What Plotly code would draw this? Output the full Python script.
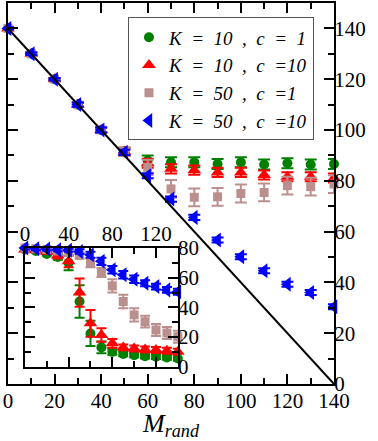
import plotly.graph_objects as go

# Datos: eje principal
m_rand = [0, 10, 20, 30, 40, 50, 60, 70, 80, 90, 100, 110, 120, 130, 140]

main_k10_c1 = [140, 130, 120, 110, 100, 91.5, 88, 87.3, 87.3, 86.6, 87.3, 86.4, 86.9, 86.4, 86.6]
main_k10_c10 = [140, 130, 120, 110, 100, 91.5, 86.9, 84.7, 84.2, 83.3, 83.3, 82.3, 81.6, 81.6, 81.1]
main_k50_c1 = [140, 130, 120, 110, 100, 91.5, 85.3, 76.8, 73.5, 73.7, 75, 75.4, 78.1, 77.7, 78.7]
main_k50_c10 = [140, 130, 120, 110, 100, 91.2, 82, 72.8, 65.6, 56.7, 50.1, 44.6, 39.3, 36, 30.4]

err_main_k10_c1 = [0.5, 0.5, 0.5, 0.8, 1, 1.5, 2, 2, 2, 2, 2, 2, 2, 2, 2]
err_main_k10_c10 = [0.5, 0.5, 0.5, 0.8, 1, 1.5, 1.8, 1.8, 1.8, 1.8, 1.8, 1.8, 1.8, 1.8, 1.8]
err_main_k50_c1 = [0.5, 0.5, 0.5, 0.8, 1, 1.5, 3, 3.5, 3.5, 3.5, 3.5, 3.5, 3.5, 3.5, 3.5]
err_main_k50_c10 = [0.5, 0.5, 0.5, 0.8, 1, 1, 1, 1, 1, 1, 1, 1, 1, 1, 1]

# Recta de referencia M = 140 - M_rand
recta_x = [0, 140]
recta_y = [140, 0]

# Datos: recuadro interior
ins_k10_c1 = [79, 78, 76, 74, 70, 44, 22.5, 13.1, 10.1, 8.6, 7.9, 7.2, 6.8, 6.3, 5.6]
ins_k10_c10 = [79, 78.5, 77.5, 75, 71, 50, 29.3, 21.4, 15.8, 13.1, 12.4, 11.7, 11.3, 10.8, 10.1]
ins_k50_c1 = [80, 79.5, 79, 78, 77, 75, 70, 63.5, 54.5, 44, 35, 30.4, 24.8, 22.8, 20.3]
ins_k50_c10 = [80, 79.5, 79.3, 78.8, 78.4, 77.7, 75.5, 71, 65.3, 62, 59, 56.3, 54, 51.8, 50.5]

err_ins_k10_c1 = [0.5, 1, 1, 2, 5, 11, 8.5, 4, 2, 1.5, 1.5, 1.5, 1.5, 1.5, 1.5]
err_ins_k10_c10 = [0.5, 1, 1, 2, 4, 9.5, 9, 4.5, 3, 2, 2, 2, 2, 2, 2]
err_ins_k50_c1 = [1, 1, 1, 1, 1.5, 2, 3, 3, 4.5, 4.5, 4.5, 4, 4, 4, 4]
err_ins_k50_c10 = [1, 1, 1, 1, 1, 1.5, 2, 2.5, 2.5, 2.5, 2.5, 2, 2, 2, 2]

# espacios anchos (en space) como en la leyenda original
nombres = [
    "K\u2002=\u200210\u2002,\u2002c\u2002=\u20021",
    "K\u2002=\u200210\u2002,\u2002c\u2002=10",
    "K\u2002=\u200250\u2002,\u2002c\u2002=1",
    "K\u2002=\u200250\u2002,\u2002c\u2002=10",
]
colores = ["#008000", "#ff0000", "#bc8f8f", "#0000ff"]
simbolos = ["circle", "triangle-up", "square", "triangle-left"]
tamanos = [10, 12, 9, 13]

series_main = [main_k10_c1, main_k10_c10, main_k50_c1, main_k50_c10]
errores_main = [err_main_k10_c1, err_main_k10_c10, err_main_k50_c1, err_main_k50_c10]
series_ins = [ins_k10_c1, ins_k10_c10, ins_k50_c1, ins_k50_c10]
errores_ins = [err_ins_k10_c1, err_ins_k10_c10, err_ins_k50_c1, err_ins_k50_c10]

FUENTE = "Liberation Serif"

fig = go.Figure()

for nombre, y, e, col, sim, tam in zip(nombres, series_main, errores_main, colores, simbolos, tamanos):
    fig.add_trace(go.Scatter(
        x=m_rand, y=y, mode="markers", name=nombre,
        marker=dict(color=col, symbol=sim, size=tam),
        error_y=dict(type="data", array=e, color=col, thickness=2, width=6),
        cliponaxis=False, xaxis="x", yaxis="y",
    ))

fig.add_trace(go.Scatter(
    x=recta_x, y=recta_y, mode="lines", showlegend=False,
    line=dict(color="black", width=2), xaxis="x", yaxis="y",
))

for y, e, col, sim, tam in zip(series_ins, errores_ins, colores, simbolos, tamanos):
    fig.add_trace(go.Scatter(
        x=m_rand, y=y, mode="markers", showlegend=False,
        marker=dict(color=col, symbol=sim, size=tam),
        error_y=dict(type="data", array=e, color=col, thickness=2, width=5),
        cliponaxis=False, xaxis="x2", yaxis="y2",
    ))

eje_comun = dict(
    showgrid=False, zeroline=False, showline=True, linecolor="black", linewidth=2,
    mirror="ticks", ticks="inside", ticklen=10, tickwidth=2, tickcolor="black",
    tickfont=dict(family=FUENTE, size=21, color="black"), automargin=False,
)
menor = dict(ticks="inside", ticklen=6, tickwidth=2, tickcolor="black")

fig.update_layout(
    width=378, height=441,
    margin=dict(l=8, r=44, t=3, b=57),
    plot_bgcolor="white", paper_bgcolor="white",
    xaxis=dict(
        **eje_comun, range=[0, 140], tick0=0, dtick=20, ticklabelstandoff=-3,
        minor=dict(dtick=10, **menor),
        title=dict(text="<i>M</i><sub><i>rand</i></sub>", standoff=0,
                   font=dict(family=FUENTE, size=26, color="black")),
    ),
    yaxis=dict(
        **eje_comun, range=[0, 150], tick0=0, dtick=20, side="right",
        ticklabelstandoff=-6, minor=dict(dtick=10, **menor),
    ),
    xaxis2=dict(
        **eje_comun, domain=[0.052, 0.521], anchor="y2", range=[0, 140],
        tick0=0, dtick=40, side="top", ticklabelstandoff=-3,
        minor=dict(dtick=20, **menor),
    ),
    yaxis2=dict(
        **eje_comun, domain=[0.045, 0.357], anchor="x2", range=[0, 80],
        tick0=0, dtick=20, side="right", ticklabelstandoff=-6,
        minor=dict(dtick=10, **menor),
    ),
    legend=dict(
        x=0.368, y=0.962, xanchor="left", yanchor="top",
        bgcolor="white", bordercolor="#555555", borderwidth=1,
        font=dict(family=FUENTE, size=19, color="black", style="italic"),
        tracegroupgap=0,
    ),
    showlegend=True,
)

# sin margen del body para que la figura empiece en la esquina
fig.write_html(
    "out.html",
    config={"displayModeBar": False},
    post_script="document.body.style.margin='0';",
)
